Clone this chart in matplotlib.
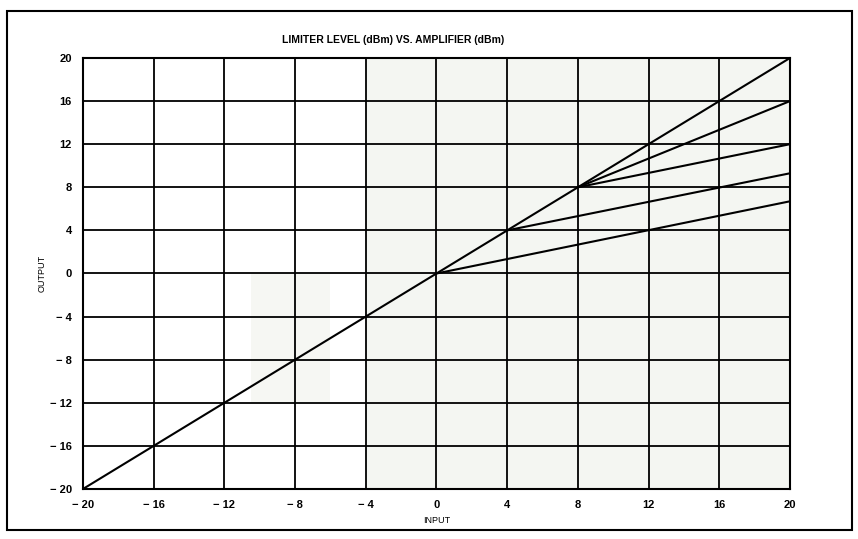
import numpy as np
import matplotlib.pyplot as plt
from matplotlib.patches import Rectangle

# Data (input dBm -> output dBm)
ticks = [-20, -16, -12, -8, -4, 0, 4, 8, 12, 16, 20]
tick_labels = ["\u2212 20", "\u2212 16", "\u2212 12", "\u2212 8", "\u2212 4",
               "0", "4", "8", "12", "16", "20"]

# unity line
unity_x = [-20, 20]
unity_y = [-20, 20]
# limiter curves: start point (knee) and end point at input 20
limit_x = [[8, 20], [8, 20], [4, 20], [0, 20]]
limit_y = [[8, 16], [8, 12], [4, 9.3], [0, 6.7]]

plt.rcParams['font.family'] = ['Liberation Sans Narrow', 'Liberation Sans', 'DejaVu Sans']

fig = plt.figure(figsize=(8.58, 5.39), dpi=100)
ax = fig.add_axes([0.0967, 0.0928, 0.824, 0.7996])

# faint scan tint on right side
ax.axvspan(-4, 20, color='#f4f6f2', zorder=0, lw=0)
ax.add_patch(Rectangle((-10.5, -12), 4.5, 12, color='#f6f7f3', zorder=0, lw=0))

ax.plot(unity_x, unity_y, color='black', lw=1.5, zorder=3)
for xs, ys in zip(limit_x, limit_y):
    ax.plot(xs, ys, color='black', lw=1.5, zorder=3)

ax.set_xlim(-20, 20)
ax.set_ylim(-20, 20)
ax.set_xticks(ticks)
ax.set_yticks(ticks)
ax.set_xticklabels(tick_labels, fontsize=8, fontweight='bold')
ax.set_yticklabels(tick_labels, fontsize=8, fontweight='bold')
ax.tick_params(length=0, pad=8)
ax.grid(True, color='black', lw=1.3)
ax.set_axisbelow(True)
for sp in ax.spines.values():
    sp.set_linewidth(1.5)

ax.set_xlabel("INPUT", fontsize=6.5, labelpad=4)
ax.set_ylabel("OUTPUT", fontsize=6.5, labelpad=2)

fig.text(0.458, 0.925, "LIMITER LEVEL (dBm) VS. AMPLIFIER (dBm)", fontsize=7.5,
         fontweight='bold', ha='center', va='center')

# page frame
fig.patches.append(Rectangle((0.008, 0.017), 0.985, 0.963, transform=fig.transFigure,
                             fill=False, lw=1.5, edgecolor='black'))

fig.savefig("out.png", dpi=100)
